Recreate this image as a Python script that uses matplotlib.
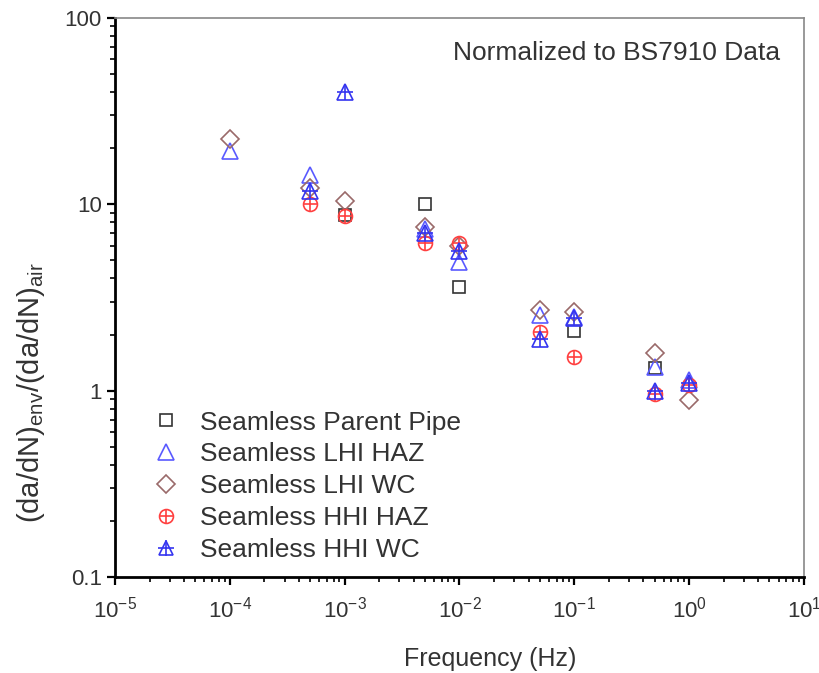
import numpy as np
import matplotlib
matplotlib.use('Agg')
import matplotlib.pyplot as plt
from matplotlib.lines import Line2D

plt.rcParams['font.family'] = ['Liberation Sans', 'DejaVu Sans']
plt.rcParams['mathtext.default'] = 'regular'

# data
f_pipe = [1e-3, 5e-3, 1e-2, 1e-1, 5e-1]
v_pipe = [8.8, 10.0, 3.6, 2.1, 1.32]

f_lhi_haz = [1e-4, 5e-4, 5e-3, 1e-2, 5e-2, 1e-1, 5e-1, 1]
v_lhi_haz = [19.4, 14.3, 7.4, 4.9, 2.55, 2.5, 1.34, 1.14]

f_lhi_wc = [1e-4, 5e-4, 1e-3, 5e-3, 1e-2, 5e-2, 1e-1, 5e-1, 1]
v_lhi_wc = [22.5, 12.3, 10.4, 7.6, 6.0, 2.7, 2.63, 1.6, 0.89]

f_hhi_haz = [5e-4, 1e-3, 5e-3, 1e-2, 5e-2, 1e-1, 5e-1, 1]
v_hhi_haz = [10.1, 8.7, 6.2, 6.2, 2.07, 1.51, 0.96, 1.07]

f_hhi_wc = [5e-4, 1e-3, 5e-3, 1e-2, 5e-2, 1e-1, 5e-1, 1]
v_hhi_wc = [11.8, 40.0, 7.0, 5.6, 1.9, 2.44, 1.0, 1.1]

labels = ['Seamless Parent Pipe', 'Seamless LHI HAZ', 'Seamless LHI WC',
          'Seamless HHI HAZ', 'Seamless HHI WC']

c_pipe = '#333333'
c_lhi_haz = '#5a5aff'
c_lhi_wc = '#9a6a6a'
c_hhi_haz = '#ff4040'
c_hhi_wc = '#3535f0'
c_text = '#333333'

fig = plt.figure(figsize=(8.19, 6.73), dpi=100)
ax = fig.add_axes([0.1404, 0.1426, 0.8413, 0.8307])

ms = 11
ax.plot(f_pipe, v_pipe, 's', ms=ms - 2, mfc='none', mec=c_pipe, mew=1.2)
ax.plot(f_lhi_haz, v_lhi_haz, '^', ms=ms + 1, mfc='none', mec=c_lhi_haz, mew=1.2)
ax.plot(f_lhi_wc, v_lhi_wc, 'D', ms=ms - 2, mfc='none', mec=c_lhi_wc, mew=1.2)
ax.plot(f_hhi_haz, v_hhi_haz, 'o', ms=ms - 1, mfc='none', mec=c_hhi_haz, mew=1.2)
ax.plot(f_hhi_haz, v_hhi_haz, '+', ms=ms - 1, mec=c_hhi_haz, mew=1.2)
ax.plot(f_hhi_wc, v_hhi_wc, '^', ms=ms, mfc='none', mec=c_hhi_wc, mew=1.2)
ax.plot(f_hhi_wc, v_hhi_wc, '+', ms=ms + 1, mec=c_hhi_wc, mew=1.2)

handles = [
    Line2D([], [], ls='none', marker='s', ms=8, mfc='none', mec=c_pipe, mew=1.2),
    Line2D([], [], ls='none', marker='^', ms=11, mfc='none', mec=c_lhi_haz, mew=1.2),
    Line2D([], [], ls='none', marker='D', ms=9, mfc='none', mec=c_lhi_wc, mew=1.2),
    (Line2D([], [], ls='none', marker='o', ms=10, mfc='none', mec=c_hhi_haz, mew=1.2),
     Line2D([], [], ls='none', marker='+', ms=10, mec=c_hhi_haz, mew=1.2)),
    (Line2D([], [], ls='none', marker='^', ms=10, mfc='none', mec=c_hhi_wc, mew=1.2),
     Line2D([], [], ls='none', marker='+', ms=11, mec=c_hhi_wc, mew=1.2)),
]
ax.legend(handles, labels, loc='lower left', bbox_to_anchor=(0.02, -0.016),
          frameon=False, fontsize=19, handletextpad=0.8, labelspacing=0.3,
          handlelength=1.0, labelcolor=c_text)

ax.set_xscale('log')
ax.set_yscale('log')
ax.set_xlim(1e-5, 10)
ax.set_ylim(0.1, 100)
ax.set_yticks([0.1, 1, 10, 100])
ax.set_yticklabels(['0.1', '1', '10', '100'])

ax.text(0.965, 0.9375, 'Normalized to BS7910 Data', transform=ax.transAxes,
        ha='right', va='center', fontsize=19, color=c_text)

ax.set_xlabel('Frequency (Hz)', fontsize=18, color=c_text)
ax.xaxis.set_label_coords(0.545, -0.125)
ax.set_ylabel('(da/dN)$_{env}$/(da/dN)$_{air}$', fontsize=21, color=c_text)
ax.yaxis.set_label_coords(-0.098, 0.33)

for s in ['left', 'bottom']:
    ax.spines[s].set_linewidth(2)
    ax.spines[s].set_color('black')
for s in ['top', 'right']:
    ax.spines[s].set_linewidth(1.2)
    ax.spines[s].set_color('#888888')

ax.tick_params(which='major', direction='out', length=6, width=1.6,
               labelsize=16, labelcolor=c_text, top=False, right=False)
ax.tick_params(which='minor', direction='out', length=3.5, width=1.2,
               top=False, right=False)
ax.tick_params(axis='x', which='major', pad=8)

fig.savefig('out.png', dpi=100)
